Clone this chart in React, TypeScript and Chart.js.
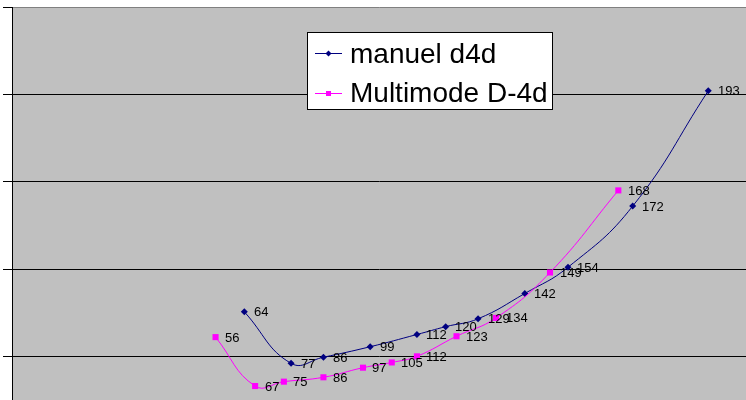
import React, { useEffect, useRef } from "react";
import { Chart, registerables } from "chart.js";

Chart.register(...registerables);

// Data (x = speed shown as data label, y = plotted value)
const manuelSpeed = [64, 77, 86, 99, 112, 120, 129, 142, 154, 172, 193];
const manuelValue = [5.51, 4.92, 4.99, 5.11, 5.25, 5.34, 5.43, 5.72, 6.02, 6.72, 8.04];
const multiSpeed = [56, 67, 75, 86, 97, 105, 112, 123, 134, 149, 168];
const multiValue = [5.22, 4.66, 4.71, 4.76, 4.87, 4.93, 5.0, 5.23, 5.44, 5.96, 6.9];
const seriesNames = ["manuel d4d", "Multimode D-4d"];
const yTicks = [5, 6, 7, 8, 9];

const NAVY = "#000080";
const MAGENTA = "#FF00FF";
const FONT = '"Liberation Sans", Arial, sans-serif';

const backgroundPlugin = {
  id: "bgPlot",
  beforeDraw(chart: any) {
    const { ctx, chartArea, width, height } = chart;
    ctx.save();
    ctx.fillStyle = "#ffffff";
    ctx.fillRect(0, 0, width, height);
    ctx.fillStyle = "#C0C0C0";
    ctx.fillRect(chartArea.left, chartArea.top, chartArea.right - chartArea.left, chartArea.bottom - chartArea.top);
    ctx.restore();
  },
};

const labelPlugin = {
  id: "pointLabels",
  afterDatasetsDraw(chart: any) {
    const { ctx } = chart;
    ctx.save();
    ctx.font = `13px ${FONT}`;
    ctx.fillStyle = "#000";
    ctx.textAlign = "left";
    ctx.textBaseline = "alphabetic";
    chart.data.datasets.forEach((ds: any, i: number) => {
      const meta = chart.getDatasetMeta(i);
      meta.data.forEach((pt: any, j: number) => {
        const label = String(ds.data[j].x);
        ctx.fillText(label, Math.round(pt.x + 9.5), Math.round(pt.y + 4.5));
      });
    });
    ctx.restore();
  },
};

const legendPlugin = {
  id: "boxLegend",
  afterDraw(chart: any) {
    const { ctx } = chart;
    const bx = 307, by = 32, bw = 245, bh = 77;
    ctx.save();
    ctx.fillStyle = "#fff";
    ctx.fillRect(bx, by, bw, bh);
    ctx.strokeStyle = "#000";
    ctx.lineWidth = 1;
    ctx.strokeRect(bx + 0.5, by + 0.5, bw, bh);
    const rows = [
      { y: 53.5, color: NAVY, shape: "diamond", text: seriesNames[0], base: 63 },
      { y: 93.5, color: MAGENTA, shape: "square", text: seriesNames[1], base: 102 },
    ];
    rows.forEach((r) => {
      ctx.strokeStyle = r.color;
      ctx.lineWidth = 1;
      ctx.beginPath();
      ctx.moveTo(315, r.y);
      ctx.lineTo(342, r.y);
      ctx.stroke();
      ctx.fillStyle = r.color;
      const cx = 328.5;
      if (r.shape === "diamond") {
        ctx.beginPath();
        ctx.moveTo(cx - 3, r.y);
        ctx.lineTo(cx, r.y - 3);
        ctx.lineTo(cx + 3, r.y);
        ctx.lineTo(cx, r.y + 3);
        ctx.closePath();
        ctx.fill();
      } else {
        ctx.fillRect(cx - 2.5, r.y - 2.5, 5, 5);
      }
      ctx.fillStyle = "#000";
      ctx.font = `28px ${FONT}`;
      ctx.textBaseline = "alphabetic";
      ctx.fillText(r.text, 350, r.base);
    });
    ctx.restore();
  },
};

export default function App() {
  const canvasRef = useRef<HTMLCanvasElement | null>(null);

  useEffect(() => {
    if (!canvasRef.current) return;
    const chart = new Chart(canvasRef.current, {
      type: "line",
      data: {
        datasets: [
          {
            label: seriesNames[0],
            data: manuelSpeed.map((x, i) => ({ x, y: manuelValue[i] })),
            borderColor: NAVY,
            backgroundColor: NAVY,
            borderWidth: 1,
            pointStyle: "rectRot",
            pointRadius: 3.5,
            pointBorderWidth: 0,
            pointBackgroundColor: NAVY,
            tension: 0.45,
            fill: false,
            order: 1,
          },
          {
            label: seriesNames[1],
            data: multiSpeed.map((x, i) => ({ x, y: multiValue[i] })),
            borderColor: MAGENTA,
            backgroundColor: MAGENTA,
            borderWidth: 1,
            pointStyle: "rect",
            pointRadius: 4.3,
            pointBorderWidth: 0,
            pointBackgroundColor: MAGENTA,
            tension: 0.45,
            fill: false,
            order: 0,
          },
        ],
      },
      options: {
        responsive: false,
        animation: false,
        events: [],
        layout: { autoPadding: false, padding: { left: 3, top: 7, right: 0, bottom: 0 } },
        plugins: {
          legend: { display: false },
          tooltip: { enabled: false },
        },
        scales: {
          x: {
            type: "linear",
            display: false,
            min: -0.6,
            max: 203.5,
          },
          y: {
            type: "linear",
            min: 4.5,
            max: 9,
            afterBuildTicks(scale: any) {
              scale.ticks = yTicks.map((v) => ({ value: v }));
            },
            ticks: { display: false },
            grid: {
              color: (c: any) => (c.tick && c.tick.value === 9 ? "#808080" : "#000000"),
              lineWidth: 1,
              drawTicks: true,
              tickLength: 9,
              tickColor: "#000000",
            },
            border: { display: true, color: "#000000", width: 1 },
          },
        },
      },
      plugins: [backgroundPlugin, labelPlugin, legendPlugin],
    } as any);
    return () => chart.destroy();
  }, []);

  return (
    <div style={{ position: "fixed", left: 0, top: 0, width: 746, height: 400 }}>
      <canvas ref={canvasRef} width={746} height={400} style={{ display: "block" }} />
    </div>
  );
}
